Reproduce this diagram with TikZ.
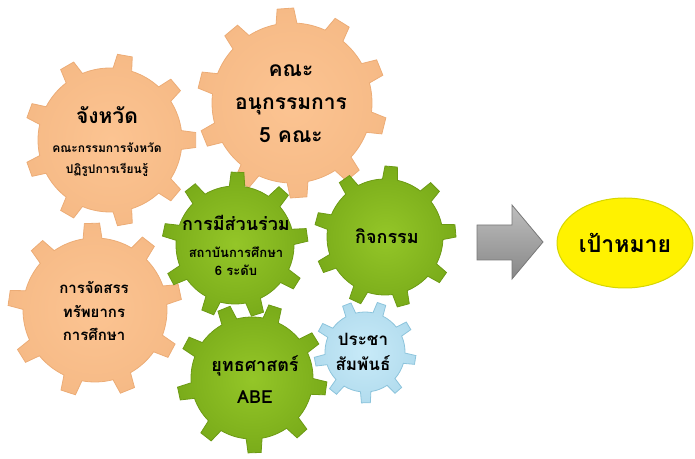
\documentclass[tikz,border=0pt]{standalone}
\usepackage{fontspec}
\usepackage{tikz}
\usetikzlibrary{shapes.geometric}
\newfontfamily\thaifont[Script=Thai]{Loma}

% gear outline: centre, body radius, tip radius, teeth, first tooth angle, style
\newcommand{\gear}[6]{%
  \pgfmathsetmacro{\gstep}{360/#4}
  \pgfmathtruncatemacro{\glast}{#4-1}
  \path[#6, shift={#1}] ({#5-7.5}:#2)
    \foreach \i in {0,...,\glast} {
      -- ({#5+\i*\gstep-5}:#3) -- ({#5+\i*\gstep+5}:#3) -- ({#5+\i*\gstep+7.5}:#2)
      arc[start angle={#5+\i*\gstep+7.5}, end angle={#5+(\i+1)*\gstep-7.5}, radius=#2]
    } -- cycle;
}
\newcommand{\fs}[2]{\fontsize{#1}{#2}\selectfont}

\begin{document}
\begin{tikzpicture}
  [x=0.5pt, y=-0.5pt,
   orangegear/.style={shade, inner color={rgb,255:red,252;green,196;blue,146}, outer color={rgb,255:red,246;green,186;blue,134}, draw={rgb,255:red,236;green,172;blue,118}, line width=0.4pt},
   greengear/.style={shade, inner color={rgb,255:red,148;green,198;blue,40}, outer color={rgb,255:red,122;green,172;blue,26}, draw={rgb,255:red,108;green,154;blue,20}, line width=0.4pt},
   bluegear/.style={shade, inner color={rgb,255:red,200;green,234;blue,248}, outer color={rgb,255:red,178;green,220;blue,238}, draw={rgb,255:red,140;green,196;blue,220}, line width=0.4pt},
   gtext/.style={align=center, inner sep=0, font=\thaifont\bfseries},
   goal/.style={ellipse, fill=yellow, draw={rgb,255:red,214;green,214;blue,0}, line width=0.5pt,
     minimum width=68pt, minimum height=45pt, inner sep=0, font=\thaifont\bfseries\fs{11.5}{14}}]
  \useasboundingbox (0,0) rectangle (695,459);

  % orange gears
  \gear{(110,140)}{72}{86}{9}{0}{orangegear}
  \gear{(292,103)}{80}{95}{10}{-22}{orangegear}
  \gear{(95,310)}{72}{87}{9}{-12}{orangegear}
  % green gears
  \gear{(235,245)}{59}{73}{9}{-8}{greengear}
  \gear{(385,237)}{58}{71}{9}{-5}{greengear}
  \gear{(252,378)}{61}{75}{9}{-32}{greengear}
  % blue gear
  \gear{(365,352)}{40}{51}{9}{-31}{bluegear}

  \node[gtext, font=\thaifont\bfseries\fs{10.5}{14.5}] (province) at (107,142)
    {จังหวัด\\{\fs{6}{10}คณะกรรมการจังหวัด}\\[-4pt]{\fs{6}{10}ปฏิรูปการเรียนรู้}};
  \node[gtext, font=\thaifont\bfseries\fs{10.5}{16.5}] (committee) at (291,104)
    {คณะ\\อนุกรรมการ\\5 คณะ};
  \node[gtext, font=\thaifont\bfseries\fs{7.5}{11.75}] (budget) at (94,311)
    {การจัดสรร\\ทรัพยากร\\การศึกษา};
  \node[gtext, font=\thaifont\bfseries\fs{9}{13.5}] (participation) at (236,245)
    {การมีส่วนร่วม\\{\fs{6.5}{9}สถาบันการศึกษา}\\[-4.5pt]{\fs{6.5}{9}6 ระดับ}};
  \node[gtext, font=\thaifont\bfseries\fs{9}{13}] (activity) at (387,236) {กิจกรรม};
  \node[gtext, font=\thaifont\bfseries\fs{9}{16}] (strategy) at (255,380)
    {ยุทธศาสตร์\\ABE};
  \node[gtext, font=\thaifont\bfseries\fs{8.5}{12.5}] (pr) at (363,352)
    {ประชา\\สัมพันธ์};

  \shade[top color={rgb,255:red,190;green,190;blue,190}, bottom color={rgb,255:red,135;green,135;blue,135},
    draw={rgb,255:red,120;green,120;blue,120}, line width=0.4pt]
    (477,225) -- (512,225) -- (512,205) -- (543,242) -- (512,279) -- (512,260) -- (477,260) -- cycle;

  \node[goal] (target) at (625,243) {เป้าหมาย};
\end{tikzpicture}
\end{document}
